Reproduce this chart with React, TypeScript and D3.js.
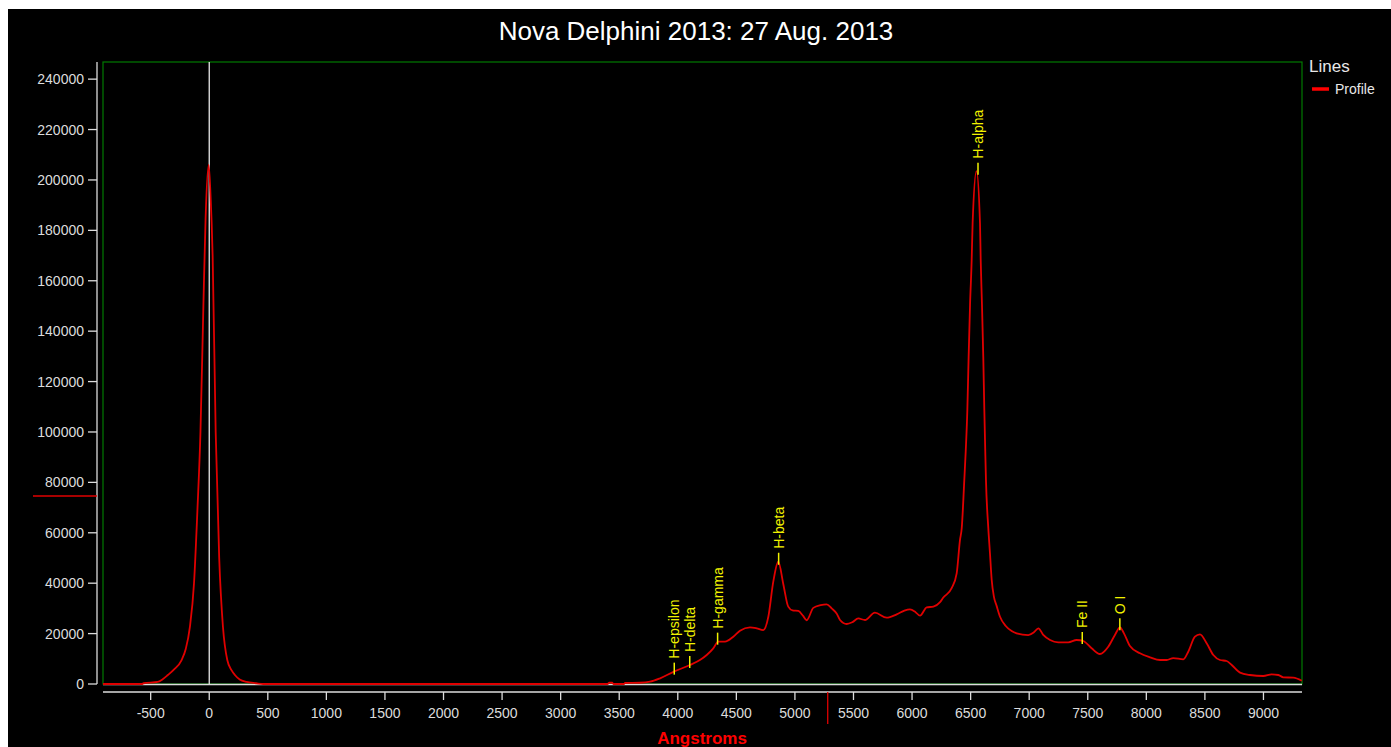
import React from "react";
import * as d3 from "d3";

// Spectrum: wavelength (Angstrom) and flux
const wavelengths = [
  -907, -575, -560, -440, -400, -353, -300, -236, -200, -165, -130, -100, -75, -50, -31, -5, 10, 29, 55, 85, 117, 154, 190, 219, 260, 319, 400, 460,
  3400, 3415, 3440, 3450, 3540, 3550, 3677, 3763, 3849, 3967, 4104, 4189, 4247, 4303, 4346, 4403, 4474, 4531, 4616, 4674, 4730, 4773, 4815, 4858, 4901,
  4943, 4980, 5029, 5070, 5100, 5157, 5220, 5271, 5314, 5356, 5385, 5442, 5490, 5541, 5598, 5683, 5783, 5869, 5930, 5982, 6030, 6068, 6125, 6182,
  6239, 6267, 6338, 6381, 6409, 6424, 6446, 6458, 6472, 6483, 6495, 6509, 6517, 6550, 6580, 6586, 6597, 6608, 6617, 6625, 6631, 6651, 6665, 6680,
  6699, 6722, 6751, 6800, 6850, 6893, 6992, 7040, 7078, 7120, 7178, 7249, 7334, 7405, 7462, 7533, 7604, 7675, 7732, 7775, 7809, 7860, 7946, 8031,
  8117, 8174, 8230, 8316, 8358, 8415, 8458, 8515, 8572, 8629, 8686, 8729, 8800, 8885, 8999, 9070, 9127, 9170, 9255, 9327,
];
const fluxes = [
  0, 0, 300, 800, 1800, 3570, 5800, 9500, 14000, 22700, 40000, 70000, 100000, 150000, 185000, 206000, 195000, 170000, 100000, 50000, 22700, 9500, 5500, 3570, 1800, 800, 300, 0,
  0, 500, 500, 0, 0, 400, 500, 900, 2260, 4900, 7540, 9500, 11500, 14160, 16800, 16800, 18770, 21150, 22500, 22100, 21400, 26700, 40500, 48500, 39600,
  30700, 29200, 29000, 27000, 25300, 30200, 31300, 31600, 30000, 28000, 25400, 23800, 24500, 26000, 25400, 28300, 26300, 27650, 29000, 29600, 28500, 27100, 30400, 30700,
  32500, 34300, 38000, 43900, 57100, 61800, 80900, 92200, 108700, 129900, 150400, 168200, 182800, 203500, 182800, 168200, 150400, 129900, 108700, 92200, 80900, 61800, 52000, 41270,
  34600, 31000, 26700, 23000, 21000, 20100, 19400, 20500, 22100, 19500, 17460, 16550, 16550, 17460, 17060, 14170, 11900, 14800, 19440, 22500, 20100, 15080, 12180, 10600,
  9520, 9520, 10300, 9800, 12800, 18770, 19700, 16150, 11500, 9520, 9130, 7540, 4500, 3570, 3170, 3850, 3570, 2650, 2500, 1300,
];

// Identified lines
const lineNames = ["H-epsilon", "H-delta", "H-gamma", "H-beta", "H-alpha", "Fe II", "O I"];
const lineWavelengths = [3970, 4102, 4340, 4861, 6563, 7453, 7774];
const lineFluxes = [4900, 7540, 16800, 48500, 203300, 17060, 22500];

const xTicks = [-500, 0, 500, 1000, 1500, 2000, 2500, 3000, 3500, 4000, 4500, 5000, 5500, 6000, 6500, 7000, 7500, 8000, 8500, 9000];
const yTicks = [0, 20000, 40000, 60000, 80000, 100000, 120000, 140000, 160000, 180000, 200000, 220000, 240000];

const cursorX = 5280;
const cursorY = 74600;

const title = "Nova Delphini 2013: 27 Aug. 2013";
const xLabel = "Angstroms";
const legendTitle = "Lines";
const seriesName = "Profile";

const FONT = "'Liberation Sans', Arial, sans-serif";

export default function App() {
  const W = 1391;
  const H = 747;
  const L = 103, R = 1302, T = 62, B = 684;
  const axisY = 692;
  const axisX = 97;

  const x = d3.scaleLinear().domain([-907, 9329]).range([L, R]);
  const y = d3.scaleLinear().domain([0, 246800]).range([B, T]);

  const data = wavelengths.map((w, i) => [w, fluxes[i]] as [number, number]);
  const line = d3
    .line<[number, number]>()
    .x((d) => x(d[0]))
    .y((d) => y(d[1]))
    .curve(d3.curveMonotoneX);

  const axisColor = "#dcdcdc";
  const red = "#e00000";
  const yellow = "#f2f200";

  return (
    <svg width={W} height={H} style={{ position: "absolute", left: 0, top: 0, display: "block" }}>
      <rect x={0} y={0} width={W} height={H} fill="#ffffff" />
      <rect x={8} y={9} width={W - 8} height={H - 9} fill="#000000" />

      {/* Title */}
      <text x={696} y={31} fill="#ffffff" fontFamily={FONT} fontSize={26} textAnchor="middle" dominantBaseline="central">
        {title}
      </text>

      {/* Plot frame */}
      <rect x={L} y={T} width={R - L} height={B - T} fill="none" stroke="#007a00" strokeWidth={1.2} />

      {/* Y axis */}
      <line x1={axisX} x2={axisX} y1={T} y2={B} stroke={axisColor} strokeWidth={1.3} />
      {yTicks.map((t) => (
        <g key={"y" + t}>
          <line x1={axisX - 9} x2={axisX} y1={y(t)} y2={y(t)} stroke={axisColor} strokeWidth={1.3} />
          <text x={84} y={y(t)} fill={axisColor} fontFamily={FONT} fontSize={14} textAnchor="end" dominantBaseline="central">
            {t}
          </text>
        </g>
      ))}

      {/* X axis */}
      <line x1={L} x2={R} y1={axisY} y2={axisY} stroke={axisColor} strokeWidth={1.3} />
      {xTicks.map((t) => (
        <g key={"x" + t}>
          <line x1={x(t)} x2={x(t)} y1={axisY} y2={axisY + 8} stroke={axisColor} strokeWidth={1.3} />
          <text x={x(t)} y={713} fill={axisColor} fontFamily={FONT} fontSize={14} textAnchor="middle" dominantBaseline="central">
            {t}
          </text>
        </g>
      ))}
      <text x={702} y={738} fill="#ff0000" fontFamily={FONT} fontSize={17} fontWeight="bold" textAnchor="middle" dominantBaseline="central">
        {xLabel}
      </text>

      {/* Cursors */}
      <line x1={x(cursorX)} x2={x(cursorX)} y1={axisY} y2={724} stroke={red} strokeWidth={1.3} />
      <line x1={33} x2={axisX} y1={y(cursorY)} y2={y(cursorY)} stroke={red} strokeWidth={1.3} />

      {/* Zero baseline and zero-wavelength marker */}
      <line x1={L} x2={R} y1={y(0) + 0.5} y2={y(0) + 0.5} stroke={axisColor} strokeWidth={1.3} />
      <line x1={x(0)} x2={x(0)} y1={T} y2={B} stroke="#e8e8e8" strokeWidth={1.3} />

      {/* Spectrum */}
      <path d={line(data) || ""} fill="none" stroke={red} strokeWidth={1.8} />

      {/* Line identifications */}
      {lineNames.map((n, i) => {
        const px = x(lineWavelengths[i]);
        const py = y(lineFluxes[i]);
        return (
          <g key={n}>
            <line x1={px} x2={px} y1={py - 9} y2={py + 3} stroke={yellow} strokeWidth={1.5} />
            <text
              transform={`translate(${px},${py - 13}) rotate(-90)`}
              fill={yellow}
              fontFamily={FONT}
              fontSize={14}
              textAnchor="start"
              dominantBaseline="central"
            >
              {n}
            </text>
          </g>
        );
      })}

      {/* Legend */}
      <text x={1309} y={66} fill="#e8e8e8" fontFamily={FONT} fontSize={17} dominantBaseline="central">
        {legendTitle}
      </text>
      <line x1={1312} x2={1329} y1={89} y2={89} stroke="#ff0000" strokeWidth={3.5} />
      <text x={1335} y={89} fill="#e8e8e8" fontFamily={FONT} fontSize={14} dominantBaseline="central">
        {seriesName}
      </text>
    </svg>
  );
}
